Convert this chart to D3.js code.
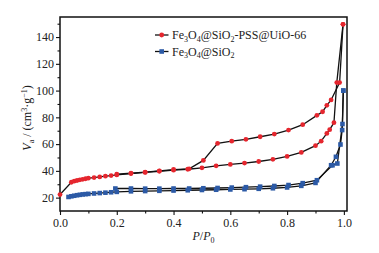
<!DOCTYPE html>
<html>
<head>
<meta charset="utf-8">
<script src="https://cdn.jsdelivr.net/npm/d3@7"></script>
<style>
  body { margin: 0; background: #fff; }
  svg text { font-family: "Liberation Serif", "Times New Roman", serif; fill: #222; }
</style>
</head>
<body>
<svg id="chart"></svg>
<script>
// Fe3O4@SiO2-PSS@UiO-66, adsorption branch
const redAdsP = [0.0, 0.04, 0.05, 0.06, 0.07, 0.08, 0.09, 0.10, 0.12, 0.14, 0.16, 0.18, 0.20,
  0.25, 0.30, 0.35, 0.40, 0.45, 0.50, 0.55, 0.60, 0.65, 0.70, 0.75, 0.80, 0.85, 0.90, 0.92, 0.94, 0.95, 0.965, 0.975, 0.997];
const redAdsV = [22.3, 31.5, 32.3, 32.8, 33.3, 33.7, 34.1, 34.5, 35.0, 35.5, 36.0, 36.5, 37.0,
  38.0, 38.8, 39.7, 40.5, 41.2, 42.3, 43.8, 44.8, 45.8, 47.0, 48.6, 50.8, 53.8, 58.8, 62.2, 68.0, 70.8, 76.0, 106, 149.5];
// Fe3O4@SiO2-PSS@UiO-66, desorption branch
const redDesP = [0.997, 0.985, 0.955, 0.94, 0.925, 0.905, 0.855, 0.805, 0.755, 0.705, 0.655, 0.605, 0.555, 0.505, 0.455, 0.40, 0.35, 0.30, 0.25, 0.20];
const redDesV = [149.5, 106, 93.0, 89.0, 84.2, 81.5, 74.5, 70.5, 67.5, 65.5, 63.6, 62.2, 60.5, 47.8, 41.5, 41.0, 40.0, 39.0, 38.2, 37.5];

// Fe3O4@SiO2, adsorption branch
const blueAdsP = [0.03, 0.04, 0.05, 0.06, 0.07, 0.08, 0.09, 0.10, 0.12, 0.14, 0.16, 0.18, 0.20,
  0.25, 0.30, 0.35, 0.40, 0.45, 0.50, 0.55, 0.60, 0.65, 0.70, 0.75, 0.80, 0.85, 0.90, 0.955, 0.972, 0.988, 0.994, 0.998];
const blueAdsV = [20.5, 21.0, 21.4, 21.8, 22.1, 22.4, 22.6, 22.8, 23.1, 23.4, 23.7, 24.0, 24.3,
  24.7, 24.9, 25.1, 25.3, 25.5, 25.7, 25.9, 26.1, 26.3, 26.6, 27.0, 27.6, 28.8, 31.0, 44.2, 50.5, 59.7, 70.5, 100];
// Fe3O4@SiO2, desorption branch
const blueDesP = [0.998, 0.995, 0.977, 0.96, 0.905, 0.855, 0.805, 0.755, 0.705, 0.655, 0.605, 0.555, 0.505, 0.455, 0.40, 0.35, 0.30, 0.25, 0.195];
const blueDesV = [100, 75.0, 45.5, 44.2, 33.0, 30.8, 29.4, 28.7, 28.2, 27.8, 27.5, 27.2, 27.0, 26.8, 26.8, 26.7, 26.7, 26.8, 26.8];

const xTicks = [0.0, 0.2, 0.4, 0.6, 0.8, 1.0];
const yTicks = [20, 40, 60, 80, 100, 120, 140];
const legendLabels = [
  [["Fe", 0], ["3", 1], ["O", 0], ["4", 1], ["@SiO", 0], ["2", 1], ["-PSS@UiO-66", 0]],
  [["Fe", 0], ["3", 1], ["O", 0], ["4", 1], ["@SiO", 0], ["2", 1]]
];

const width = 379, height = 253;
const margin = { top: 17, right: 32, bottom: 42, left: 60 };
const red = "#e5262e", blue = "#2c5aa6";

const svg = d3.select("#chart").attr("width", width).attr("height", height);

const x = d3.scaleLinear().domain([0, 1.011]).range([margin.left, width - margin.right]);
const y = d3.scaleLinear().domain([10, 155]).range([height - margin.bottom, margin.top]);

const zip = (ps, vs) => ps.map((p, i) => ({ p: p, v: vs[i] }));
const redAds = zip(redAdsP, redAdsV), redDes = zip(redDesP, redDesV);
const blueAds = zip(blueAdsP, blueAdsV), blueDes = zip(blueDesP, blueDesV);

// axes
svg.append("g").attr("transform", `translate(0,${y.range()[0]})`)
  .call(d3.axisBottom(x).tickValues(xTicks).tickFormat(d3.format(".1f")).tickSizeInner(4).tickSizeOuter(0).tickPadding(3));
svg.append("g").attr("transform", `translate(0,${y.range()[0]})`)
  .call(d3.axisBottom(x).tickValues([0.1, 0.3, 0.5, 0.7, 0.9]).tickFormat("").tickSizeInner(2.5).tickSizeOuter(0));
svg.append("g").attr("transform", `translate(${margin.left},0)`)
  .call(d3.axisLeft(y).tickValues(yTicks).tickSizeInner(4).tickSizeOuter(0).tickPadding(2));
svg.append("g").attr("transform", `translate(${margin.left},0)`)
  .call(d3.axisLeft(y).tickValues([30, 50, 70, 90, 110, 130, 150]).tickFormat("").tickSizeInner(2.5).tickSizeOuter(0));

svg.selectAll(".tick line").attr("stroke", "#111").attr("stroke-width", 1.1);
svg.selectAll(".tick text").attr("font-size", 12).attr("font-family", "Liberation Serif").attr("fill", "#222");
svg.selectAll(".domain").remove();

// frame
svg.append("rect")
  .attr("x", x.range()[0]).attr("y", y.range()[1])
  .attr("width", x.range()[1] - x.range()[0]).attr("height", y.range()[0] - y.range()[1])
  .attr("fill", "none").attr("stroke", "#111").attr("stroke-width", 1.5);

// lines
const line = d3.line().x(d => x(d.p)).y(d => y(d.v));
[redAds, redDes, blueAds, blueDes].forEach(s => {
  svg.append("path").datum(s).attr("d", line)
    .attr("fill", "none").attr("stroke", "#111").attr("stroke-width", 1.3);
});

// markers
function circles(data) {
  svg.append("g").selectAll("circle").data(data).join("circle")
    .attr("cx", d => x(d.p)).attr("cy", d => y(d.v)).attr("r", 2.4).attr("fill", red);
}
function squares(data) {
  svg.append("g").selectAll("rect").data(data).join("rect")
    .attr("x", d => x(d.p) - 2.3).attr("y", d => y(d.v) - 2.3)
    .attr("width", 4.6).attr("height", 4.6).attr("fill", blue);
}
squares(blueAds); squares(blueDes);
circles(redAds); circles(redDes);

// legend
const legend = svg.append("g");
legendLabels.forEach((parts, i) => {
  const ly = 35 + i * 16.5;
  legend.append("line").attr("x1", 155).attr("x2", 168.5).attr("y1", ly).attr("y2", ly)
    .attr("stroke", "#111").attr("stroke-width", 1.3);
  if (i === 0) {
    legend.append("circle").attr("cx", 161.7).attr("cy", ly).attr("r", 2.4).attr("fill", red);
  } else {
    legend.append("rect").attr("x", 159.4).attr("y", ly - 2.3).attr("width", 4.6).attr("height", 4.6).attr("fill", blue);
  }
  const t = legend.append("text").attr("x", 172).attr("y", ly + 4).attr("font-size", 12);
  parts.forEach(([s, sub]) => {
    t.append("tspan").text(s)
      .attr("font-size", sub ? 8 : 12)
      .attr("dy", sub ? 2.5 : 0)
      .each(function() { if (!sub && this.previousSibling) d3.select(this).attr("dy", -2.5); });
  });
});

// axis titles
const xt = svg.append("text").attr("x", (x.range()[0] + x.range()[1]) / 2).attr("y", 240)
  .attr("text-anchor", "middle").attr("font-size", 12);
xt.append("tspan").attr("font-style", "italic").text("P");
xt.append("tspan").text("/");
xt.append("tspan").attr("font-style", "italic").text("P");
xt.append("tspan").attr("font-size", 8).attr("dy", 3).text("0");

const yt = svg.append("text")
  .attr("transform", `translate(31,${(y.range()[0] + y.range()[1]) / 2 + 4}) rotate(-90)`)
  .attr("text-anchor", "middle").attr("font-size", 12);
yt.append("tspan").attr("font-style", "italic").text("V");
yt.append("tspan").attr("font-size", 8).attr("dy", 3).text("a");
yt.append("tspan").attr("dy", -3).text(" / (cm");
yt.append("tspan").attr("font-size", 8).attr("dy", -4).text("3");
yt.append("tspan").attr("dy", 4).text("·g");
yt.append("tspan").attr("font-size", 8).attr("dy", -4).text("−1");
yt.append("tspan").attr("dy", 4).text(")");
</script>
</body>
</html>
